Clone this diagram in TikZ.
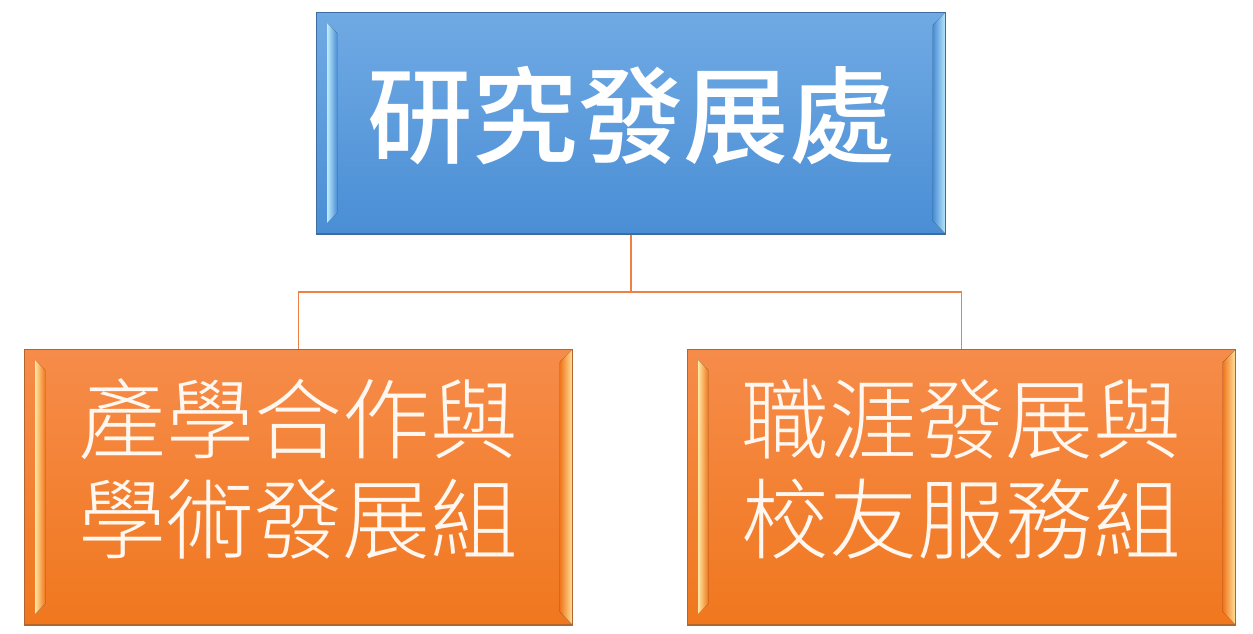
\documentclass[tikz,border=0pt]{standalone}
\usepackage{fontspec}
\newfontfamily\cjkmid{Noto Sans CJK TC Medium}
\newfontfamily\cjklight{Noto Sans CJK TC Light}
\usetikzlibrary{calc}
\definecolor{bluetop}{HTML}{70AAE4}
\definecolor{bluebot}{HTML}{4A8ED5}
\definecolor{blueline}{HTML}{3C6D9E}
\definecolor{bluelite}{HTML}{BCEBFB}
\definecolor{orgtop}{HTML}{F68C4A}
\definecolor{orgbot}{HTML}{F0771E}
\definecolor{orgline}{HTML}{B4642E}
\definecolor{orglite}{HTML}{FFE7A0}
\definecolor{linkcol}{HTML}{EB8142}
\begin{document}
\begin{tikzpicture}[x=0.02cm,y=-0.02cm,
    bevel/.style 2 args={path picture={
        \path (path picture bounding box.north west) coordinate (nw)
              (path picture bounding box.south east) coordinate (se);
        \fill[left color=#2,right color=#1] ($(nw)+(0.22cm,-0.22cm)$) -- ($(nw)+(0.42cm,-0.42cm)$)
            -- ($(nw|-se)+(0.42cm,0.42cm)$) -- ($(nw|-se)+(0.22cm,0.22cm)$) -- cycle;
        \fill[left color=#1,right color=#2] ($(se|-nw)+(-0.26cm,-0.26cm)$) -- (se|-nw)
            -- (se) -- ($(se)+(-0.26cm,0.26cm)$) -- cycle;}},
    dept/.style={rectangle,draw=blueline,line width=0.6pt,top color=bluetop,bottom color=bluebot,
        minimum width=12.6cm,minimum height=4.44cm,inner sep=0pt,text=white,text depth=14pt,
        font=\cjkmid\fontsize{60}{66}\selectfont,bevel={bluebot}{bluelite}},
    grp/.style={rectangle,draw=orgline,line width=0.6pt,top color=orgtop,bottom color=orgbot,
        minimum width=10.98cm,minimum height=5.52cm,inner sep=0pt,text=white!94!orange,align=center,
        text depth=24pt,font=\cjklight\fontsize{50}{57}\selectfont,bevel={orgbot}{orglite}},
    link/.style={draw=linkcol,line width=1.1pt}]
\useasboundingbox (0,0) rectangle (1253,633);
\node[dept] (rd) at (631,123) {研究發展處};
\node[grp] (coop) at (298.5,487) {產學合作與\\學術發展組};
\node[grp] (career) at (961.5,487) {職涯發展與\\校友服務組};
\coordinate (bus) at (631,292);
\draw[link] (rd.south) -- (bus) -| (coop.north);
\draw[link] (bus) -| (career.north);
\end{tikzpicture}
\end{document}
